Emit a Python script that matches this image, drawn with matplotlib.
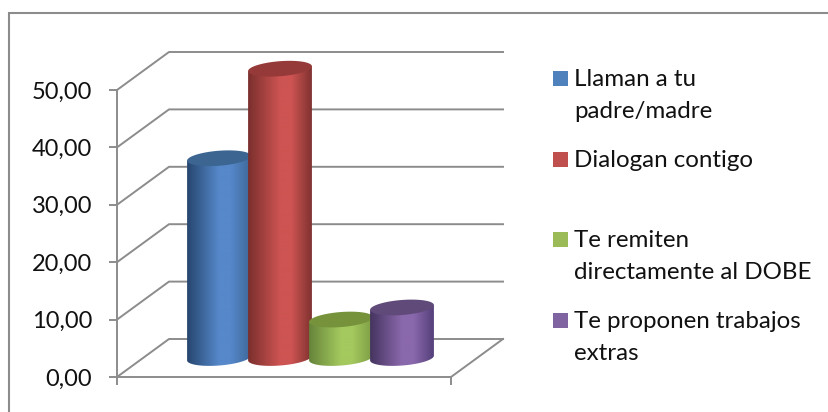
import numpy as np
import matplotlib
matplotlib.use('Agg')
import matplotlib.pyplot as plt
from matplotlib.lines import Line2D
from matplotlib.path import Path
from matplotlib.patches import PathPatch, Polygon, Rectangle
from matplotlib.colors import LinearSegmentedColormap

plt.rcParams['font.family'] = ['Lato', 'DejaVu Sans']

labels = ['Llaman a tu\npadre/madre', 'Dialogan contigo',
          'Te remiten\ndirectamente al DOBE', 'Te proponen trabajos\nextras']
values = [34.8, 50.4, 6.7, 8.8]
ticks = [0, 10, 20, 30, 40, 50]
tick_labels = ['0,00', '10,00', '20,00', '30,00', '40,00', '50,00']
positions = [0, 1, 2, 3]
side = ['#26466f', '#7a2f2d', '#66843a', '#45345f']
mid = ['#5688ca', '#cd5452', '#a4c95e', '#8a68ac']
right = ['#3d6899', '#7f3230', '#7d9c45', '#54407a']
top = ['#3c6591', '#953a38', '#76933c', '#5f4a7a']
legend_colors = ['#4f81bd', '#c0504d', '#9bbb59', '#8064a2']
legend_y = [78, 159, 239, 320]

W, H = 829, 412
grey = '#8c8c8c'
fig = plt.figure(figsize=(W / 100, H / 100), dpi=100)

# chart frame, only top and left edges are inside the picture
fig.add_artist(Line2D([9.5 / W, 9.5 / W, 1], [0, 1 - 13 / H, 1 - 13 / H], color=grey, lw=1.5,
                      transform=fig.transFigure, solid_joinstyle='miter'))

# pixel box of the front plane
L, R, B, T = 117, 451, 377, 90
ax = fig.add_axes([L / W, 1 - B / H, (R - L) / W, (B - T) / H])
ax.patch.set_alpha(0)
step = 61
cx0 = 219
x0, x1 = (L - cx0) / step, (R - cx0) / step
ux = 1 / step
uy = 50 / (B - T)

# depth of the box, in pixels
dx, dy = 52, 38
for t in ticks:
    ax.plot([x0, x0 + dx * ux, x1 + dx * ux], [t, t + dy * uy, t + dy * uy],
            color=grey, lw=1.4, clip_on=False, zorder=1)
ax.plot([x1, x1 + dx * ux], [0, dy * uy], color=grey, lw=1.4, clip_on=False, zorder=1)

for s in ['top', 'right']:
    ax.spines[s].set_visible(False)
for s in ['left', 'bottom']:
    ax.spines[s].set_color(grey)
    ax.spines[s].set_linewidth(1.4)
ax.set_yticks(ticks)
ax.set_yticklabels(tick_labels)
ax.set_xticks([x0, x1])
ax.set_xticklabels(['', ''])
ax.tick_params(axis='y', length=6, width=1.4, color=grey, labelsize=17, pad=12, labelcolor='#111111')
ax.tick_params(axis='x', length=6, width=1.4, color=grey)

# cylinders
a, b, tilt = 32, 7.5, np.radians(4.5)
base_lift = 19 * uy
tt = np.linspace(0, 2 * np.pi, 121)
ex = (a * np.cos(tt) * np.cos(tilt) - b * np.sin(tt) * np.sin(tilt)) * ux
ey = (a * np.cos(tt) * np.sin(tilt) + b * np.sin(tt) * np.cos(tilt)) * uy
# lower half of the ellipse, left to right
i_left = np.argmin(ex)
i_right = np.argmax(ex)
lower = np.arange(i_left, i_right + 121 if i_right < i_left else i_right + 1) % 120

for i, p in enumerate(positions):
    y_top = base_lift + values[i]
    low = np.column_stack([p + ex[lower], base_lift + ey[lower]])
    verts = np.vstack([low, [[p + ex[i_right], y_top + ey[i_right]]],
                       [[p + ex[i_left], y_top + ey[i_left]]], low[:1]])
    clip = PathPatch(Path(verts), transform=ax.transData, fc='none', ec='none')
    ax.add_patch(clip)
    cmap = LinearSegmentedColormap.from_list('c', [(0, side[i]), (0.5, mid[i]), (0.68, mid[i]), (1, right[i])])
    im = ax.imshow(np.linspace(0, 1, 256)[None, :], cmap=cmap, aspect='auto', zorder=3 + i,
                   extent=[p + ex[i_left], p + ex[i_right], base_lift - 3, y_top + 3])
    im.set_clip_box(fig.bbox)
    im.set_clip_path(clip)
    ax.add_patch(Polygon(np.column_stack([p + ex, y_top + ey]), closed=True, fc=top[i], ec='none',
                         zorder=3 + i + 0.5, clip_on=False))
ax.set_xlim(x0, x1)
ax.set_ylim(0, 50)

# legend
for lab, col, y in zip(labels, legend_colors, legend_y):
    fig.add_artist(Rectangle((553 / W, 1 - (y + 7.5) / H), 15 / W, 15 / H, fc=col, ec='none',
                             transform=fig.transFigure))
    fig.text(574 / W, 1 - (y - 9) / H, lab, fontsize=17.4, va='top', ha='left', color='#111111',
             linespacing=1.62)

fig.savefig('out.png', dpi=100)
